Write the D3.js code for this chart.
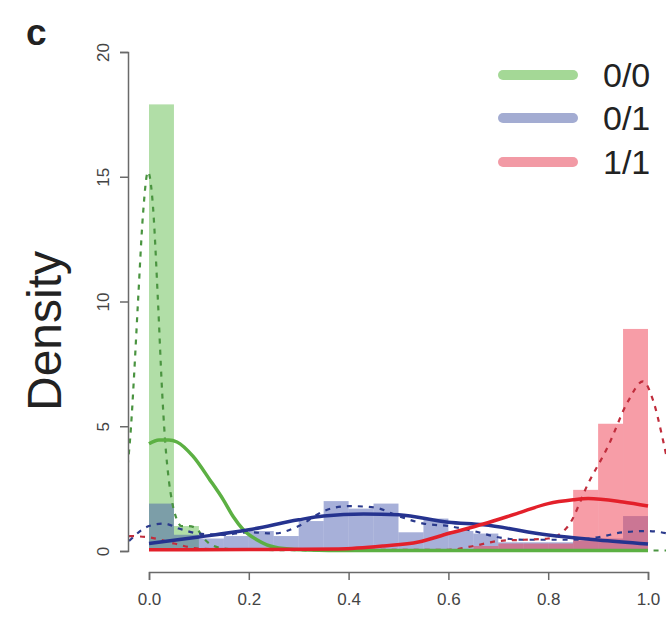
<!DOCTYPE html>
<html><head><meta charset="utf-8">
<script src="https://cdn.jsdelivr.net/npm/d3@7"></script>
<style>
html,body{margin:0;padding:0;background:#fff;}
svg{display:block;font-family:"Liberation Sans",Arial,sans-serif;}
</style></head>
<body>
<svg id="chart" width="666" height="618"></svg>
<script>
// ---------- data ----------
const panelLabel = "c";
const yTitle = "Density";
const groups = ["0/0", "0/1", "1/1"];
const xTicks = [0.0, 0.2, 0.4, 0.6, 0.8, 1.0];
const xTickLabels = ["0.0", "0.2", "0.4", "0.6", "0.8", "1.0"];
const yTicks = [0, 5, 10, 15, 20];
const yTickLabels = ["0", "5", "10", "15", "20"];

// histogram bins (start of each bin, width 0.05)
const binStarts = [0.00,0.05,0.10,0.15,0.20,0.25,0.30,0.35,0.40,0.45,0.50,0.55,0.60,0.65,0.70,0.75,0.80,0.85,0.90,0.95];
const binWidth = 0.05;
const hist00 = [17.9,1.0,0.1,0.05,0,0,0,0,0,0,0,0,0,0,0,0,0,0,0,0];
const hist01 = [1.9,0.65,0.5,0.6,0.8,0.6,1.2,2.0,1.7,1.9,0.75,1.3,0.8,0.7,0.35,0.35,0.35,0.4,0.5,1.4];
const hist11 = [0,0,0,0,0,0,0,0,0,0,0,0,0,0.2,0.3,0.3,0.3,2.45,5.1,8.9];

// fitted (solid) curves
const fit00X = [0,0.02,0.04,0.056,0.088,0.122,0.149,0.169,0.189,0.216,0.236,0.27,0.32,0.4,0.5,0.6,0.7,0.8,0.9,1.0];
const fit00Y = [4.3,4.45,4.45,4.37,3.8,2.85,2.05,1.37,0.85,0.45,0.25,0.1,0.04,0.02,0.02,0.02,0.02,0.02,0.02,0.02];
const fit01X = [0,0.1,0.2,0.3,0.35,0.43,0.5,0.6,0.67,0.8,0.9,1.0];
const fit01Y = [0.3,0.56,0.85,1.25,1.4,1.48,1.45,1.15,1.05,0.64,0.44,0.28];
const fit11X = [0,0.2,0.38,0.47,0.54,0.6,0.67,0.737,0.8,0.85,0.88,0.95,1.0];
const fit11Y = [0.05,0.06,0.08,0.2,0.36,0.7,1.08,1.5,1.9,2.05,2.1,1.96,1.8];

// kernel density (dashed) curves
const kde00X = [-0.045,-0.036,-0.03,-0.022,-0.012,-0.002,0.008,0.018,0.026,0.032,0.04,0.046,0.055,0.065,0.08,0.095,0.11,0.13,0.16,0.3,0.6,1.04];
const kde00Y = [3.0,5.0,7.0,10.0,13.5,15.2,13.8,10.0,6.5,4.5,2.8,2.0,1.3,1.0,1.0,0.9,0.5,0.2,0.08,0.03,0.02,0.02];
const kde01X = [-0.04,0,0.03,0.06,0.1,0.15,0.2,0.25,0.3,0.35,0.4,0.45,0.5,0.55,0.6,0.65,0.7,0.75,0.8,0.85,0.9,0.95,1.0,1.04];
const kde01Y = [0.4,1.0,1.1,0.9,0.7,0.65,0.75,0.7,1.0,1.6,1.8,1.75,1.4,1.1,1.0,0.8,0.55,0.45,0.45,0.45,0.55,0.75,0.8,0.7];
const kde11X = [-0.04,0,0.05,0.1,0.2,0.6,0.65,0.7,0.75,0.8,0.84,0.88,0.92,0.96,0.99,1.01,1.03,1.045];
const kde11Y = [0.6,0.55,0.3,0.1,0.05,0.05,0.2,0.4,0.45,0.5,1.0,2.7,4.2,6.0,6.8,6.05,4.45,3.0];

// ---------- chart ----------
const svg = d3.select("#chart");
const x = d3.scaleLinear().domain([0, 1]).range([149, 648]);
const y = d3.scaleLinear().domain([0, 20]).range([551, 52]);

const colFill = ["rgba(100,190,80,0.5)", "rgba(60,80,170,0.45)", "rgba(240,60,80,0.5)"];
const colFit = ["#5cb043", "#25338f", "#e3202a"];
const colKde = ["#4a9440", "#2b3a8c", "#c02d3c"];
const colLegend = ["#a4d896", "#a3acd2", "#f29aa5"];

svg.append("defs").append("clipPath").attr("id", "plotclip")
  .append("rect")
  .attr("x", x(-0.04)).attr("y", y(20.8))
  .attr("width", x(1.04) - x(-0.04)).attr("height", y(-0.8) - y(20.8));

const plot = svg.append("g").attr("clip-path", "url(#plotclip)");

[hist00, hist01, hist11].forEach((h, gi) => {
  plot.append("g").selectAll("rect")
    .data(binStarts.map((b, i) => ({b, v: h[i]})).filter(d => d.v > 0))
    .join("rect")
    .attr("x", d => x(d.b))
    .attr("width", d => x(d.b + binWidth) - x(d.b))
    .attr("y", d => y(d.v))
    .attr("height", d => y(0) - y(d.v))
    .attr("fill", colFill[gi]);
});

const line = d3.line().x(d => x(d[0])).y(d => y(d[1])).curve(d3.curveMonotoneX);

const kdes = [[kde00X, kde00Y], [kde01X, kde01Y], [kde11X, kde11Y]];
kdes.forEach((k, gi) => {
  plot.append("path")
    .attr("d", line(k[0].map((v, i) => [v, k[1][i]])))
    .attr("fill", "none")
    .attr("stroke", colKde[gi])
    .attr("stroke-width", 2.2)
    .attr("stroke-dasharray", "5,6");
});

const fits = [[fit00X, fit00Y], [fit01X, fit01Y], [fit11X, fit11Y]];
fits.forEach((f, gi) => {
  plot.append("path")
    .attr("d", line(f[0].map((v, i) => [v, f[1][i]])))
    .attr("fill", "none")
    .attr("stroke", colFit[gi])
    .attr("stroke-width", 3.5)
    .attr("stroke-linejoin", "round");
});

// axes
const axisColor = "#6a6a6a";
const xAxis = d3.axisBottom(x).tickValues(xTicks).tickFormat((d, i) => xTickLabels[i]).tickSize(8).tickPadding(13);
const gx = svg.append("g").attr("transform", `translate(0,${572})`).call(xAxis);
gx.select(".domain").attr("stroke", axisColor).attr("stroke-width", 1.5);
gx.selectAll(".tick line").attr("stroke", axisColor).attr("stroke-width", 1.5);
gx.selectAll(".tick text").attr("fill", "#444").attr("font-size", 17).attr("font-family", "Liberation Sans, Arial, sans-serif");

const yAxis = d3.axisLeft(y).tickValues(yTicks).tickFormat((d, i) => yTickLabels[i]).tickSize(8);
const gy = svg.append("g").attr("transform", `translate(${128},0)`).call(yAxis);
gy.select(".domain").attr("stroke", axisColor).attr("stroke-width", 1.5);
gy.selectAll(".tick line").attr("stroke", axisColor).attr("stroke-width", 1.5);
gy.selectAll(".tick text").remove();
gy.selectAll(".tick").append("text")
  .attr("transform", "translate(-25,0) rotate(-90)")
  .attr("text-anchor", "middle")
  .attr("dy", "0.35em")
  .attr("fill", "#444")
  .attr("font-size", 17)
  .attr("font-family", "Liberation Sans, Arial, sans-serif")
  .text((d, i) => yTickLabels[i]);

// titles
svg.append("text")
  .attr("transform", "translate(61,331) rotate(-90)")
  .attr("text-anchor", "middle")
  .attr("font-size", 48)
  .attr("fill", "#222")
  .text(yTitle);

svg.append("text")
  .attr("x", 26).attr("y", 45)
  .attr("font-size", 37)
  .attr("font-weight", "bold")
  .attr("fill", "#222")
  .text(panelLabel);

// legend
const legY = [75, 118, 162];
const leg = svg.append("g");
groups.forEach((g, i) => {
  leg.append("line")
    .attr("x1", 503).attr("x2", 573)
    .attr("y1", legY[i]).attr("y2", legY[i])
    .attr("stroke", colLegend[i]).attr("stroke-width", 10)
    .attr("stroke-linecap", "round");
  leg.append("text")
    .attr("x", 603).attr("y", legY[i] + 12)
    .attr("font-size", 34)
    .attr("fill", "#222")
    .text(g);
});
</script>
</body></html>
